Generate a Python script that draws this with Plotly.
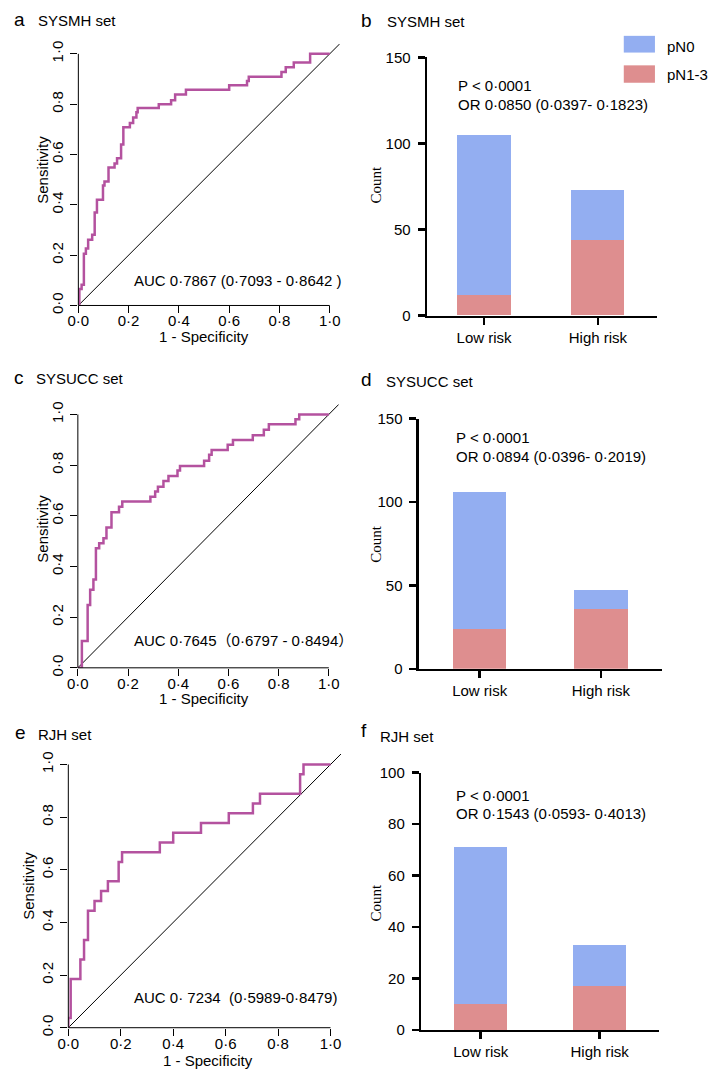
import plotly.graph_objects as go

W, H = 711, 1079

# ---------------- data ----------------
roc_ticks = [0, 0.2, 0.4, 0.6, 0.8, 1.0]
roc_ticktext = ["0·0", "0·2", "0·4", "0·6", "0·8", "1·0"]

# ROC step corners: (1 - specificity where curve rises, sensitivity after rise)
sysmh_fpr = [0, 0.004, 0.013, 0.022, 0.030, 0.039, 0.055, 0.065, 0.074, 0.098, 0.104, 0.120, 0.144,
             0.154, 0.170, 0.179, 0.205, 0.218, 0.231, 0.236, 0.320, 0.369, 0.385, 0.428, 0.600,
             0.671, 0.678, 0.808, 0.825, 0.857, 0.922, 1.0]
sysmh_tpr = [0, 0.065, 0.082, 0.206, 0.226, 0.261, 0.281, 0.369, 0.420, 0.477, 0.493, 0.548, 0.564,
             0.585, 0.640, 0.708, 0.725, 0.747, 0.768, 0.785, 0.800, 0.816, 0.838, 0.857, 0.875,
             0.892, 0.909, 0.928, 0.947, 0.966, 1.0, 1.0]

sysucc_fpr = [0, 0.016, 0.016, 0.039, 0.049, 0.062, 0.072, 0.085, 0.102, 0.114, 0.134, 0.164, 0.177,
              0.289, 0.308, 0.319, 0.341, 0.361, 0.397, 0.407, 0.503, 0.523, 0.533, 0.597, 0.618,
              0.697, 0.741, 0.761, 0.867, 0.882, 1.0]
sysucc_tpr = [0, 0.016, 0.106, 0.248, 0.308, 0.349, 0.472, 0.492, 0.511, 0.554, 0.614, 0.636, 0.656,
              0.675, 0.696, 0.715, 0.737, 0.757, 0.779, 0.796, 0.817, 0.841, 0.860, 0.880, 0.899,
              0.918, 0.940, 0.961, 0.981, 1.0, 1.0]

rjh_fpr = [0, 0, 0.009, 0.046, 0.060, 0.075, 0.100, 0.125, 0.151, 0.192, 0.205, 0.349, 0.400, 0.506,
           0.612, 0.704, 0.731, 0.884, 0.897, 1.0]
rjh_tpr = [0, 0.037, 0.185, 0.259, 0.333, 0.444, 0.481, 0.519, 0.556, 0.630, 0.667, 0.704, 0.741,
           0.778, 0.815, 0.852, 0.889, 0.963, 1.0, 1.0]

risk_groups = ["Low risk", "High risk"]
sysmh_pn0 = [93, 29]
sysmh_pn13 = [12, 44]
sysucc_pn0 = [82, 11]
sysucc_pn13 = [24, 36]
rjh_pn0 = [61, 16]
rjh_pn13 = [10, 17]

# ---------------- style ----------------
FONT = "Liberation Sans, Arial, Noto Sans CJK SC, sans-serif"
SERIF = "Liberation Serif, Times New Roman, serif"
ROC_COLOR = "#b4529f"
BLUE = "#93aef1"
RED = "#de8e8f"


def px(X):
    return X / W


def py(Y):
    return 1 - Y / H


fig = go.Figure()
annotations = []
shapes = []


def ann(text, X, Y, size=15, xanchor="left", family=FONT, angle=0):
    annotations.append(dict(text=text, x=px(X), y=py(Y), xref="paper", yref="paper",
                            xanchor=xanchor, yanchor="middle", showarrow=False,
                            textangle=angle, font=dict(size=size, family=family, color="black")))


roc_panels = [
    # idx, fpr, tpr, X0, X1, Y0, Y1, auc text, auc Y, ylabel X, ylabel Y, xlabel X, xlabel Y
    (1, sysmh_fpr, sysmh_tpr, 68.5, 324.2, 301.5, 45.6, "AUC 0·7867 (0·7093 - 0·8642 )", 276, 32, 163, 196, 333.5),
    (3, sysucc_fpr, sysucc_tpr, 68.0, 323.3, 670.0, 412.3, "AUC 0·7645（0·6797 - 0·8494）", 642.7, 32, 528, 196, 701.5),
    (5, rjh_fpr, rjh_tpr, 58.3, 325.0, 1036.0, 768.3, "AUC 0·\u00a07234\u00a0\u00a0(0·5989-0·8479)", 1005, 18.3, 891.7, 200, 1069.5),
]

bar_panels = [
    # idx, pn0, pn13, Xleft, Xright, Ybottom, Ytop, ymax, tickvals, xrange, width, P Y, OR Y, Count Y, OR text
    (2, sysmh_pn0, sysmh_pn13, 423.3, 656.7, 311.7, 49.3, 150, [0, 50, 100, 150], [-0.5, 1.516], 0.467,
     77.3, 96.7, 178, "OR 0·0850 (0·0397- 0·1823)", 452.7),
    (4, sysucc_pn0, sysucc_pn13, 415.0, 661.7, 671.0, 416.7, 150, [0, 50, 100, 150], [-0.5, 1.5], 0.44,
     435.7, 455.0, 543.3, "OR 0·0894 (0·0396- 0·2019)", 450.7),
    (6, rjh_pn0, rjh_pn13, 417.3, 659.3, 1038.3, 776.7, 100, [0, 20, 40, 60, 80, 100], [-0.5, 1.5], 0.448,
     800.0, 818.3, 908.3, "OR 0·1543 (0·0593- 0·4013)", 450.7),
]

layout_axes = {}
for idx, fpr, tpr, X0, X1, Y0, Y1, auc, aucY, ylX, ylY, xlX, xlY in roc_panels:
    xa = "x" if idx == 1 else f"x{idx}"
    ya = "y" if idx == 1 else f"y{idx}"
    unitX = X1 - X0
    unitY = Y0 - Y1
    xdom = [px(X0), px(X0 + 1.04 * unitX)]
    ydom = [py(Y0), py(Y0 - 1.04 * unitY)]
    fig.add_trace(go.Scatter(x=[0, 1.04], y=[0, 1.04], mode="lines", xaxis=xa, yaxis=ya,
                             line=dict(color="black", width=1), showlegend=False, hoverinfo="skip"))
    fig.add_trace(go.Scatter(x=fpr, y=tpr, mode="lines", xaxis=xa, yaxis=ya,
                             line=dict(color=ROC_COLOR, width=2.5, shape="hv"), showlegend=False))
    common = dict(showgrid=False, zeroline=False, showline=False, ticks="outside", ticklen=7,
                  tickwidth=1, tickcolor="black", tickvals=roc_ticks, ticktext=roc_ticktext,
                  tickfont=dict(size=15, family=FONT, color="black"), range=[0, 1.04], fixedrange=True)
    layout_axes["xaxis" if idx == 1 else f"xaxis{idx}"] = dict(domain=xdom, anchor=ya, ticklabelstandoff=-5,
                                                               **common)
    layout_axes["yaxis" if idx == 1 else f"yaxis{idx}"] = dict(domain=ydom, anchor=xa, tickangle=-90,
                                                               ticklabelstandoff=1, **common)
    shapes.append(dict(type="line", xref="paper", yref="paper", x0=px(X0), x1=px(X1), y0=py(Y0), y1=py(Y0),
                       line=dict(color="black", width=1)))
    shapes.append(dict(type="line", xref="paper", yref="paper", x0=px(X0), x1=px(X0), y0=py(Y0), y1=py(Y1),
                       line=dict(color="black", width=1)))
    ann(auc, 123, aucY)
    ann("Sensitivity", ylX, ylY, xanchor="center", angle=-90)
    ann("1 - Specificity", xlX, xlY, xanchor="center")

for idx, pn0, pn13, XL, XR, YB, YT, ymax, tv, xr, bw, pY, orY, cY, ortext, tX in bar_panels:
    xa = f"x{idx}"
    ya = f"y{idx}"
    fig.add_trace(go.Bar(x=risk_groups, y=pn13, name="pN1-3", marker=dict(color=RED, line=dict(width=0)),
                         width=bw, xaxis=xa, yaxis=ya, showlegend=False))
    fig.add_trace(go.Bar(x=risk_groups, y=pn0, name="pN0", marker=dict(color=BLUE, line=dict(width=0)),
                         width=bw, xaxis=xa, yaxis=ya, showlegend=False))
    layout_axes[f"xaxis{idx}"] = dict(domain=[px(XL), px(XR)], anchor=ya, type="category",
                                      categoryorder="array", categoryarray=risk_groups, range=xr,
                                      showgrid=False, zeroline=False, showline=True, linewidth=2.5,
                                      linecolor="black", ticks="outside", ticklen=7, tickwidth=2.5,
                                      tickcolor="black", tickfont=dict(size=15, family=FONT, color="black"),
                                      fixedrange=True)
    layout_axes[f"yaxis{idx}"] = dict(domain=[py(YB), py(YT)], anchor=xa, range=[0, ymax], tickvals=tv,
                                      showgrid=False, zeroline=False, showline=True, linewidth=2.5,
                                      linecolor="black", ticks="outside", ticklen=7, tickwidth=2.5,
                                      tickcolor="black", tickfont=dict(size=15, family=FONT, color="black"),
                                      ticklabelstandoff=4, fixedrange=True)
    ann("P < 0·0001", tX, pY)
    ann(ortext, tX, orY)
    ann("Count", 371.7, cY, xanchor="center", family=SERIF, angle=-90)

# panel titles
titles = [("a", 1, 11, "SYSMH set", 25, 12), ("b", 354, 12, "SYSMH set", 380, 13),
          ("c", 1, 375, "SYSUCC set", 23, 376), ("d", 354, 377, "SYSUCC set", 379, 379),
          ("e", 2, 736, "RJH set", 25, 738), ("f", 354, 734, "RJH set", 373, 740)]
for letter, lx, lyy, t, tx, ty in titles:
    ann(letter, lx, lyy, size=19)
    ann(t, tx, ty, size=15)

# legend (panel b)
shapes.append(dict(type="rect", xref="paper", yref="paper", x0=px(623.3), x1=px(655), y0=py(44.3), y1=py(27.3),
                   fillcolor=BLUE, line=dict(width=0)))
shapes.append(dict(type="rect", xref="paper", yref="paper", x0=px(623.3), x1=px(655), y0=py(75), y1=py(57.3),
                   fillcolor=RED, line=dict(width=0)))
ann("pN0", 665.5, 38)
ann("pN1-3", 665.5, 67)

fig.update_layout(width=W, height=H, margin=dict(l=0, r=0, t=0, b=0), paper_bgcolor="white",
                  plot_bgcolor="white", barmode="stack", showlegend=False,
                  annotations=annotations, shapes=shapes, **layout_axes)

fig.write_html("out.html", config={"displayModeBar": False, "staticPlot": True},
               post_script="document.body.style.margin='0';document.body.style.overflow='hidden';")
